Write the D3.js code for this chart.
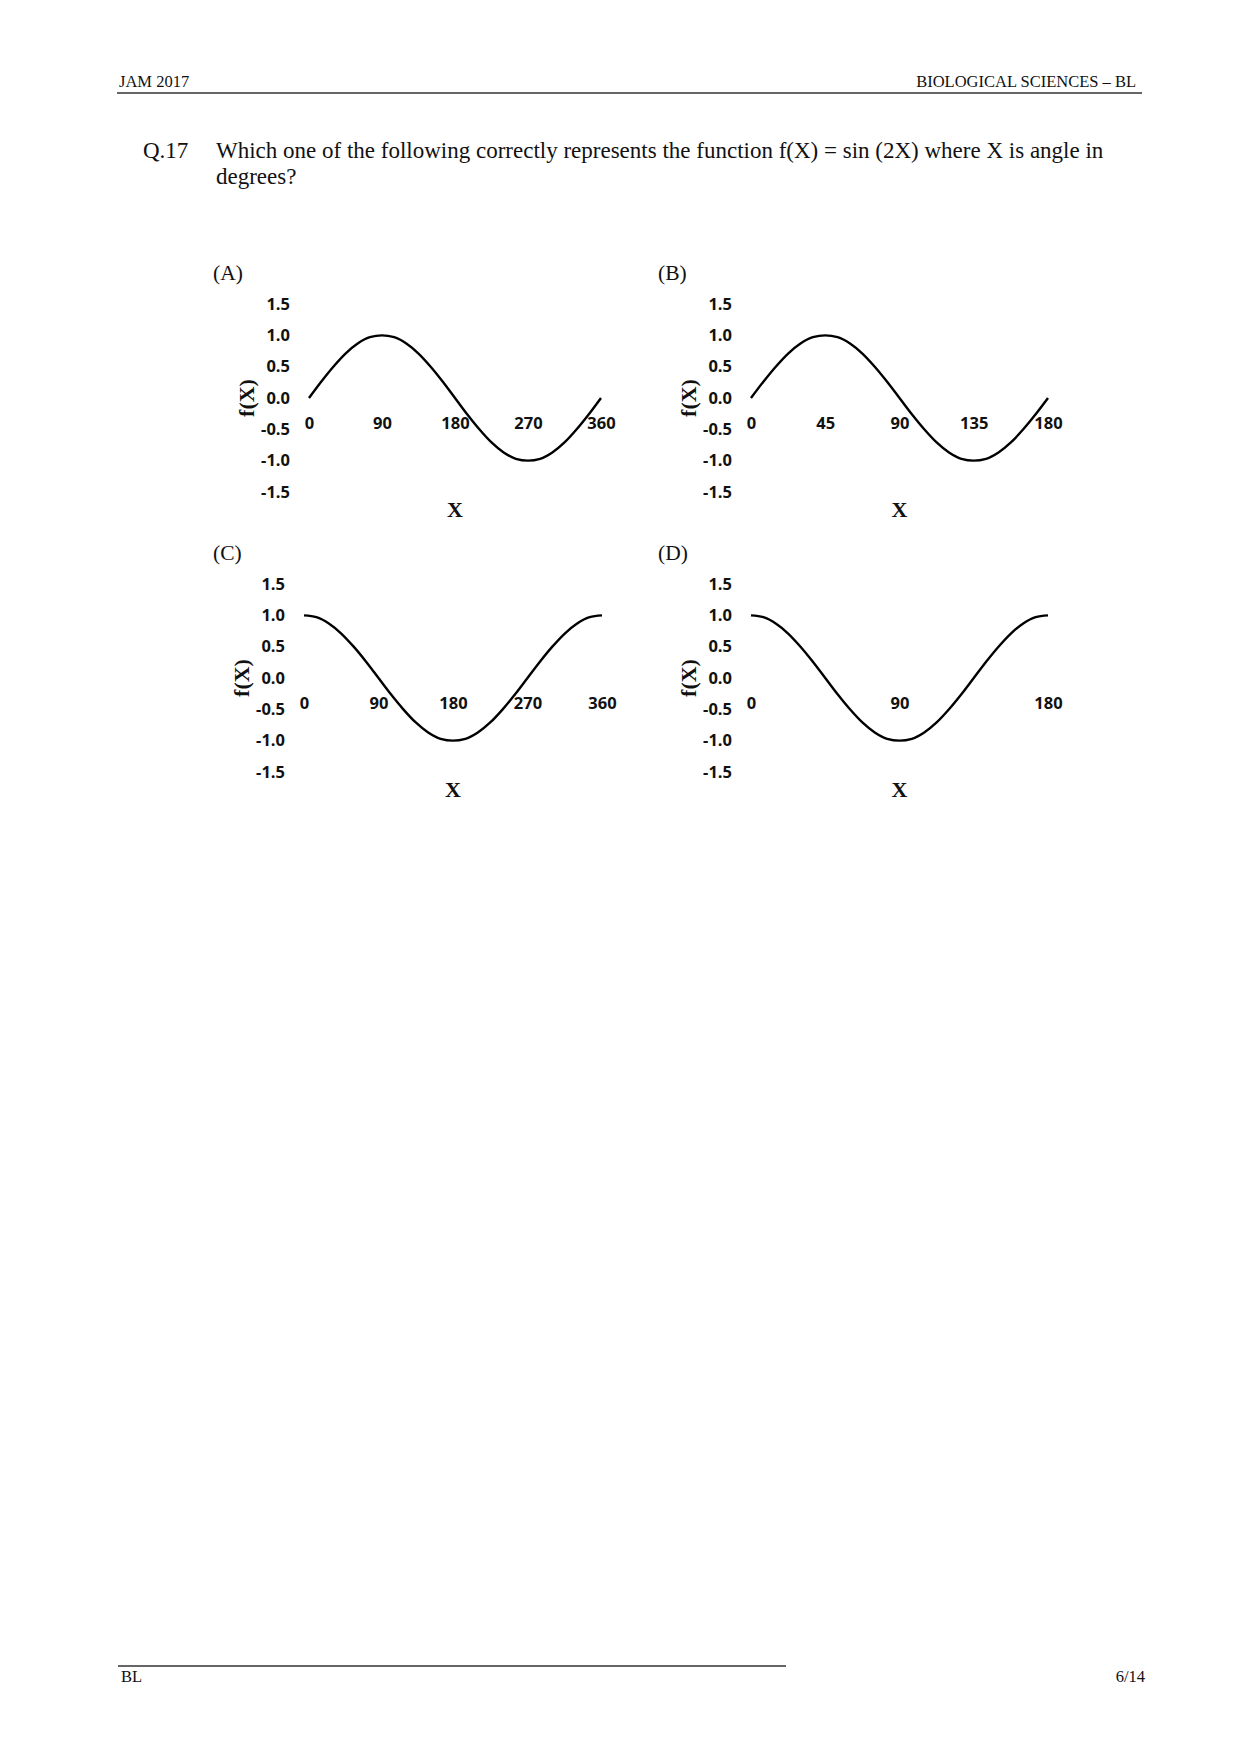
<!DOCTYPE html>
<html>
<head>
<meta charset="utf-8">
<script src="https://cdn.jsdelivr.net/npm/d3@7"></script>
<style>
  body { margin: 0; background: #fff; }
  svg { display: block; }
  .page { font-family: "Liberation Serif", "Times New Roman", serif; fill: #111; }
  .tick text { font-family: "Open Sans", "Liberation Sans", sans-serif; font-weight: 700; font-size: 16.5px; fill: #111; }
  .title { font-family: "Liberation Serif", "Times New Roman", serif; font-weight: 700; font-size: 22px; fill: #111; }
</style>
</head>
<body>
<svg id="chart" width="1248" height="1754"></svg>
<script>
// values (every 15 deg on the 360 plots, 7.5 deg on the 180 plots)
var xFull = [0, 15, 30, 45, 60, 75, 90, 105, 120, 135, 150, 165, 180, 195, 210, 225, 240, 255, 270, 285, 300, 315, 330, 345, 360];
var xHalf = [0, 7.5, 15, 22.5, 30, 37.5, 45, 52.5, 60, 67.5, 75, 82.5, 90, 97.5, 105, 112.5, 120, 127.5, 135, 142.5, 150, 157.5, 165, 172.5, 180];
var startZeroVals = [0, 0.26, 0.5, 0.71, 0.87, 0.97, 1, 0.97, 0.87, 0.71, 0.5, 0.26, 0, -0.26, -0.5, -0.71, -0.87, -0.97, -1, -0.97, -0.87, -0.71, -0.5, -0.26, 0];
var startOneVals = [1, 0.97, 0.87, 0.71, 0.5, 0.26, 0, -0.26, -0.5, -0.71, -0.87, -0.97, -1, -0.97, -0.87, -0.71, -0.5, -0.26, 0, 0.26, 0.5, 0.71, 0.87, 0.97, 1];

var yTicks = [1.5, 1.0, 0.5, 0.0, -0.5, -1.0, -1.5];
var xTicksA = [0, 90, 180, 270, 360];
var xTicksB = [0, 45, 90, 135, 180];
var xTicksC = [0, 90, 180, 270, 360];
var xTicksD = [0, 90, 180];

var panelNames = ["(A)", "(B)", "(C)", "(D)"];

var svg = d3.select("#chart");

// the printed labels use a plain hyphen, not d3's minus sign
var fmtY = function(d) { return d3.format(".1f")(d).replace("\u2212", "-"); };

// page furniture
var page = svg.append("g").attr("class", "page");
page.append("text").attr("x", 119).attr("y", 87).style("font-size", "16.5px").text("JAM 2017");
page.append("text").attr("x", 1136).attr("y", 87).attr("text-anchor", "end").style("font-size", "16.5px").text("BIOLOGICAL SCIENCES \u2013 BL");
page.append("line").attr("x1", 117).attr("x2", 1142).attr("y1", 93).attr("y2", 93)
    .attr("stroke", "#333").attr("stroke-width", 1.6);

page.append("text").attr("x", 143).attr("y", 158).style("font-size", "23px").text("Q.17");
page.append("text").attr("x", 216).attr("y", 158).style("font-size", "23px")
    .text("Which one of the following correctly represents the function f(X) = sin (2X) where X is angle in");
page.append("text").attr("x", 216).attr("y", 184).style("font-size", "23px").text("degrees?");

page.append("line").attr("x1", 118).attr("x2", 786).attr("y1", 1666).attr("y2", 1666)
    .attr("stroke", "#333").attr("stroke-width", 1.6);
page.append("text").attr("x", 121).attr("y", 1682).style("font-size", "16.5px").text("BL");
page.append("text").attr("x", 1145).attr("y", 1682).attr("text-anchor", "end").style("font-size", "16.5px").text("6/14");

var panels = [
    { name: panelNames[0], xs: xFull, ys: startZeroVals, ticks: xTicksA, max: 360, x0: 309, x1: 601, zero: 398, labelX: 213 },
    { name: panelNames[1], xs: xHalf, ys: startZeroVals, ticks: xTicksB, max: 180, x0: 751, x1: 1048, zero: 398, labelX: 658 },
    { name: panelNames[2], xs: xFull, ys: startOneVals, ticks: xTicksC, max: 360, x0: 304, x1: 602, zero: 678, labelX: 213 },
    { name: panelNames[3], xs: xHalf, ys: startOneVals, ticks: xTicksD, max: 180, x0: 751, x1: 1048, zero: 678, labelX: 658 }
];

panels.forEach(function(p) {
    var g = svg.append("g");
    var x = d3.scaleLinear().domain([0, p.max]).range([p.x0, p.x1]);
    var y = d3.scaleLinear().domain([-1.5, 1.5]).range([p.zero + 94, p.zero - 94]);

    // panel letter
    g.append("text").attr("class", "page")
        .attr("x", p.labelX).attr("y", p.zero - 118)
        .style("font-size", "21.5px")
        .text(p.name);

    // y axis, labels only
    var yAxis = g.append("g")
        .attr("transform", "translate(" + (p.x0 - 19) + ",0)")
        .call(d3.axisLeft(y).tickValues(yTicks).tickSize(0).tickPadding(0).tickFormat(fmtY));
    yAxis.select(".domain").remove();

    // x axis, labels only, hanging under the zero line
    var xAxis = g.append("g")
        .attr("transform", "translate(0," + p.zero + ")")
        .call(d3.axisBottom(x).tickValues(p.ticks).tickSize(0).tickPadding(19.5).tickFormat(d3.format("d")));
    xAxis.select(".domain").remove();

    g.append("text").attr("class", "title")
        .attr("transform", "translate(" + (p.x0 - 63) + "," + p.zero + ") rotate(-90)")
        .attr("text-anchor", "middle").attr("dominant-baseline", "central")
        .text("f(X)");

    g.append("text").attr("class", "title")
        .attr("x", (p.x0 + p.x1) / 2).attr("y", p.zero + 111)
        .attr("text-anchor", "middle").attr("dominant-baseline", "central")
        .text("X");

    var line = d3.line()
        .x(function(d, i) { return x(p.xs[i]); })
        .y(function(d) { return y(d); })
        .curve(d3.curveMonotoneX);

    g.append("path")
        .datum(p.ys)
        .attr("fill", "none")
        .attr("stroke", "#000")
        .attr("stroke-width", 2.4)
        .attr("d", line);
});
</script>
</body>
</html>
